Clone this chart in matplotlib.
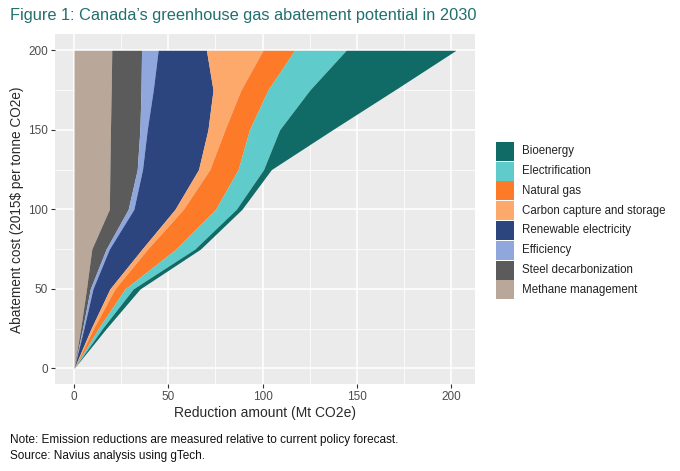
import numpy as np
import matplotlib
matplotlib.use("Agg")
import matplotlib.pyplot as plt
from matplotlib import font_manager
from matplotlib.patches import Rectangle
from matplotlib.ticker import MultipleLocator

# abatement cost levels (2015$ per tonne CO2e)
cost = [0, 25, 50, 75, 100, 125, 150, 175, 200]

# reduction available from each option at each cost level (Mt CO2e), stacking order
methane = [0, 3.5, 6.6, 9.4, 18.7, 19.0, 19.3, 19.7, 20.0]
steel = [0, 1.0, 2.0, 7.6, 10.0, 14.5, 15.6, 15.8, 15.8]
efficiency = [0, 0.7, 1.4, 1.7, 3.0, 2.8, 3.9, 6.5, 8.8]
renewable = [0, 3.8, 9.0, 17.3, 21.8, 29.7, 32.2, 31.7, 25.6]
ccs = [0, 1.3, 2.7, 3.0, 4.5, 6.0, 9.0, 14.8, 30.0]
natural_gas = [0, 2.5, 5.3, 15.0, 17.0, 15.0, 13.0, 14.3, 16.7]
electrification = [0, 2.2, 4.4, 10.0, 11.0, 13.5, 16.0, 22.2, 27.4]
bioenergy = [0, 2.0, 3.6, 3.0, 3.0, 4.1, 28.0, 45.0, 58.2]

labels = [
    "Methane management",
    "Steel decarbonization",
    "Efficiency",
    "Renewable electricity",
    "Carbon capture and storage",
    "Natural gas",
    "Electrification",
    "Bioenergy",
]
colors = [
    "#b9a799",
    "#5b5b5b",
    "#8fa7dc",
    "#2c457f",
    "#fea96c",
    "#fd7a28",
    "#5fcbca",
    "#106a66",
]
series = [methane, steel, efficiency, renewable, ccs, natural_gas,
          electrification, bioenergy]

plt.rcParams["font.family"] = ["Liberation Sans", "DejaVu Sans"]

installed = {f.name for f in font_manager.fontManager.ttflist}
if "Liberation Sans Narrow" in installed:
    title_font, title_size = "Liberation Sans Narrow", 14.5
else:
    title_font, title_size = "Liberation Sans", 11.8

W, H = 680, 471
fig = plt.figure(figsize=(W / 100, H / 100), dpi=100)
ax = fig.add_axes([0.0809, 0.184, 0.6176, 0.743])
ax.set_facecolor("#ebebeb")

y = np.array(cost, dtype=float)
left = np.zeros_like(y)
for values, color in zip(series, colors):
    right = left + np.array(values, dtype=float)
    ax.fill_betweenx(y, left, right, color=color, linewidth=0, zorder=3)
    left = right

ax.set_xlim(-10.1, 212.6)
ax.set_ylim(-10, 210)
ax.xaxis.set_major_locator(MultipleLocator(50))
ax.yaxis.set_major_locator(MultipleLocator(50))
ax.xaxis.set_minor_locator(MultipleLocator(25))
ax.yaxis.set_minor_locator(MultipleLocator(25))
ax.grid(True, which="major", color="white", linewidth=1.1, zorder=1)
ax.grid(True, which="minor", color="white", linewidth=0.55, zorder=1)
ax.set_axisbelow(True)
for spine in ax.spines.values():
    spine.set_visible(False)
ax.tick_params(which="major", length=3, width=0.8, color="#333333",
               labelcolor="#4d4d4d", labelsize=8.5, pad=2)
ax.tick_params(which="minor", length=0)

ax.set_xlabel("Reduction amount (Mt CO2e)", fontsize=10, color="#2a2a2a",
              labelpad=2)
ax.set_ylabel(r"Abatement cost (2015\$ per tonne CO2e)", fontsize=9.8,
              color="#2a2a2a", labelpad=3)

# legend drawn by hand, ggplot style keys (top row = last stacked layer)
key_x, key_w, key_h, pitch, top = 496, 18, 19, 19.8, 141.7
for i, (lab, col) in enumerate(zip(labels[::-1], colors[::-1])):
    y0 = top + i * pitch
    fig.patches.append(Rectangle((key_x / W, 1 - (y0 + key_h) / H),
                                 key_w / W, key_h / H,
                                 transform=fig.transFigure,
                                 facecolor=col, edgecolor="none"))
    fig.text(522 / W, 1 - (y0 + key_h / 2) / H, lab, fontsize=8.3,
             color="#222222", ha="left", va="center")

fig.text(0.015, 0.968,
         "Figure 1: Canada\u2019s greenhouse gas abatement potential in 2030",
         fontsize=title_size, family=[title_font, "DejaVu Sans"],
         color="#21706e", ha="left", va="center")
fig.text(0.015, 0.066,
         "Note: Emission reductions are measured relative to current policy forecast.",
         fontsize=8.5, color="#111111", ha="left", va="center")
fig.text(0.015, 0.032, "Source: Navius analysis using gTech.",
         fontsize=8.5, color="#111111", ha="left", va="center")

fig.savefig("out.png", dpi=100)
